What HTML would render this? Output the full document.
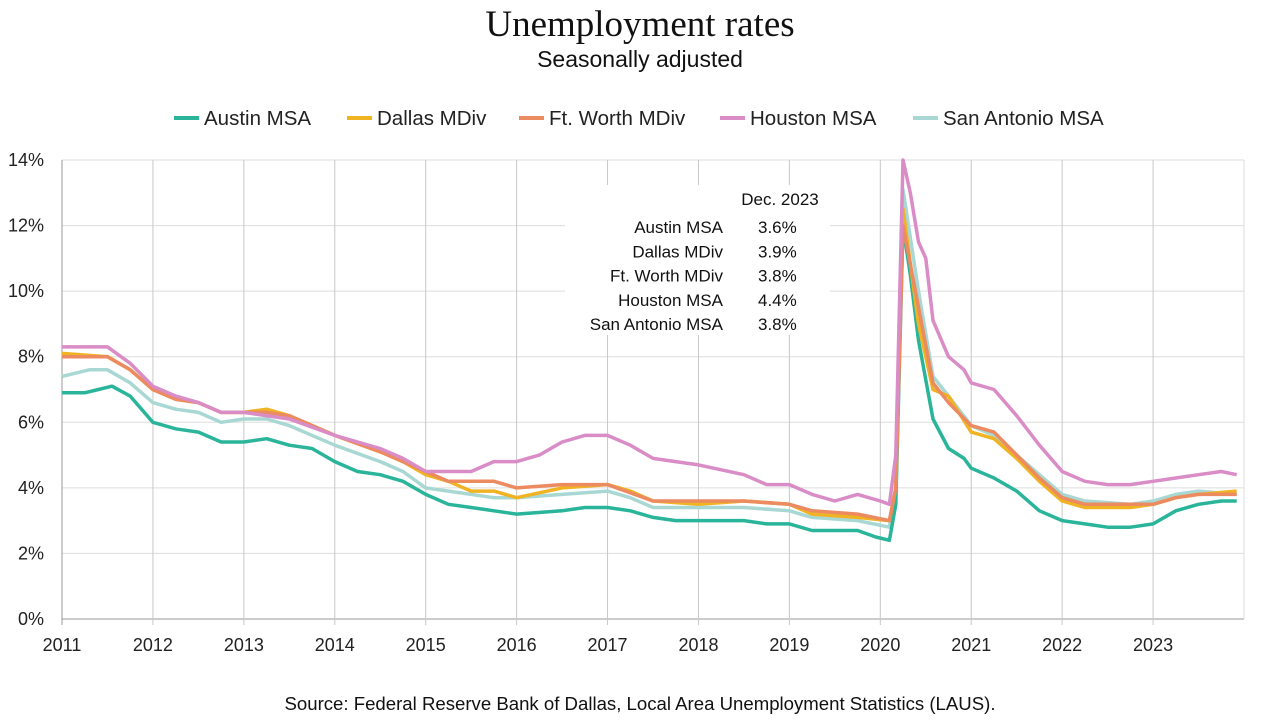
<!DOCTYPE html>
<html><head><meta charset="utf-8"><style>
body{margin:0;background:#fff;width:1280px;height:720px;overflow:hidden;font-family:"Liberation Sans",sans-serif}
</style></head><body>
<svg width="1280" height="720">
<text x="640" y="36" text-anchor="middle" font-family="Liberation Serif" font-size="37" fill="#111">Unemployment rates</text>
<text x="640" y="67" text-anchor="middle" font-size="23" fill="#111">Seasonally adjusted</text>
<g id="legend"></g>
<g id="grid"></g>
<g id="series"></g>
<g font-size="17" fill="#111">
<rect x="565" y="185" width="265" height="150" fill="#fff"/>
<text x="780" y="205" text-anchor="middle">Dec. 2023</text>
<g id="tablerows"></g>
</g>
<text x="640" y="710" text-anchor="middle" font-size="18.6" fill="#111">Source:  Federal Reserve Bank of Dallas, Local Area Unemployment Statistics (LAUS).</text>
</svg>
<script>
const seriesNames=["Austin MSA","Dallas MDiv","Ft. Worth MDiv","Houston MSA","San Antonio MSA"];
const seriesColors=["#2ab59a","#f0b323","#ec8a60","#d98cc6","#a9d8d4"];
const yTicks=[0,2,4,6,8,10,12,14];
const xTicks=[2011,2012,2013,2014,2015,2016,2017,2018,2019,2020,2021,2022,2023];
const latest=["3.6%","3.9%","3.8%","4.4%","3.8%"];
const austinDates=[2011,2011.25,2011.4,2011.55,2011.75,2012,2012.25,2012.5,2012.75,2013,2013.25,2013.5,2013.75,2014,2014.25,2014.5,2014.75,2015,2015.25,2015.5,2015.75,2016,2016.5,2016.75,2017,2017.25,2017.5,2017.75,2018,2018.5,2018.75,2019,2019.25,2019.75,2019.95,2020.1,2020.17,2020.25,2020.33,2020.42,2020.58,2020.75,2020.92,2021,2021.25,2021.5,2021.75,2022,2022.25,2022.5,2022.75,2023,2023.25,2023.5,2023.75,2023.92];
const austinVals=[6.9,6.9,7.0,7.1,6.8,6.0,5.8,5.7,5.4,5.4,5.5,5.3,5.2,4.8,4.5,4.4,4.2,3.8,3.5,3.4,3.3,3.2,3.3,3.4,3.4,3.3,3.1,3.0,3.0,3.0,2.9,2.9,2.7,2.7,2.5,2.4,3.5,12.0,10.5,8.5,6.1,5.2,4.9,4.6,4.3,3.9,3.3,3.0,2.9,2.8,2.8,2.9,3.3,3.5,3.6,3.6];
const dallasDates=[2011,2011.5,2011.75,2012,2012.25,2012.5,2012.75,2013,2013.25,2013.5,2014,2014.5,2014.75,2015,2015.25,2015.5,2015.75,2016,2016.5,2017,2017.25,2017.5,2018,2018.5,2019,2019.25,2019.75,2020.1,2020.17,2020.25,2020.42,2020.58,2020.75,2021,2021.25,2021.5,2021.75,2022,2022.25,2022.75,2023,2023.25,2023.5,2023.92];
const dallasVals=[8.1,8.0,7.6,7.0,6.7,6.6,6.3,6.3,6.4,6.2,5.6,5.1,4.8,4.4,4.2,3.9,3.9,3.7,4.0,4.1,3.9,3.6,3.5,3.6,3.5,3.2,3.1,3.0,4.0,12.5,9.0,7.0,6.8,5.7,5.5,4.9,4.2,3.6,3.4,3.4,3.5,3.7,3.8,3.9];
const fortDates=[2011,2011.5,2011.75,2012,2012.25,2012.5,2012.75,2013,2013.25,2013.5,2014,2014.5,2014.75,2015,2015.25,2015.75,2016,2016.5,2017,2017.5,2018,2018.5,2019,2019.25,2019.75,2020.1,2020.17,2020.25,2020.42,2020.58,2020.75,2021,2021.25,2021.5,2021.75,2022,2022.25,2022.75,2023,2023.25,2023.5,2023.92];
const fortVals=[8.0,8.0,7.6,7.0,6.7,6.6,6.3,6.3,6.3,6.2,5.6,5.1,4.8,4.5,4.2,4.2,4.0,4.1,4.1,3.6,3.6,3.6,3.5,3.3,3.2,3.0,4.0,12.0,9.5,7.2,6.6,5.9,5.7,5.0,4.3,3.7,3.5,3.5,3.5,3.7,3.8,3.8];
const houstonDates=[2011,2011.5,2011.75,2012,2012.25,2012.5,2012.75,2013,2013.5,2014,2014.5,2014.75,2015,2015.5,2015.75,2016,2016.25,2016.5,2016.75,2017,2017.25,2017.5,2017.75,2018,2018.5,2018.75,2019,2019.25,2019.5,2019.75,2020,2020.1,2020.17,2020.25,2020.33,2020.42,2020.5,2020.58,2020.75,2020.92,2021,2021.25,2021.5,2021.75,2022,2022.25,2022.5,2022.75,2023,2023.25,2023.5,2023.75,2023.92];
const houstonVals=[8.3,8.3,7.8,7.1,6.8,6.6,6.3,6.3,6.1,5.6,5.2,4.9,4.5,4.5,4.8,4.8,5.0,5.4,5.6,5.6,5.3,4.9,4.8,4.7,4.4,4.1,4.1,3.8,3.6,3.8,3.6,3.5,5.0,14.0,13.0,11.5,11.0,9.1,8.0,7.6,7.2,7.0,6.2,5.3,4.5,4.2,4.1,4.1,4.2,4.3,4.4,4.5,4.4];
const saDates=[2011,2011.3,2011.5,2011.75,2012,2012.25,2012.5,2012.75,2013,2013.25,2013.5,2014,2014.5,2014.75,2015,2015.25,2015.5,2015.75,2016,2016.5,2017,2017.25,2017.5,2018,2018.5,2019,2019.25,2019.75,2020.1,2020.17,2020.25,2020.42,2020.58,2020.75,2021,2021.25,2021.5,2021.75,2022,2022.25,2022.75,2023,2023.25,2023.5,2023.92];
const saVals=[7.4,7.6,7.6,7.2,6.6,6.4,6.3,6.0,6.1,6.1,5.9,5.3,4.8,4.5,4.0,3.9,3.8,3.7,3.7,3.8,3.9,3.7,3.4,3.4,3.4,3.3,3.1,3.0,2.8,4.0,13.1,10.0,7.4,6.8,5.9,5.6,5.0,4.4,3.8,3.6,3.5,3.6,3.8,3.9,3.8];
const allDates=[austinDates,dallasDates,fortDates,houstonDates,saDates];
const allVals=[austinVals,dallasVals,fortVals,houstonVals,saVals];

const NS="http://www.w3.org/2000/svg";
const X0=62,X1=1244,Y0=619,Y1=160;
const xs=t=>X0+(t-2011)/13*(X1-X0);
const ys=v=>Y0-v/14*(Y0-Y1);
function mk(tag,attrs,parent){const e=document.createElementNS(NS,tag);for(const k in attrs)e.setAttribute(k,attrs[k]);parent.appendChild(e);return e;}
const grid=document.getElementById('grid');
yTicks.forEach(v=>{
 const l=mk('line',{x1:X0,x2:X1,y1:ys(v),y2:ys(v),stroke:v===0?'#999':'#ddd','stroke-width':1},grid);
 
 
 const t=mk('text',{x:X0-18,y:ys(v)+6,'text-anchor':'end','font-size':18,fill:'#222'},grid);
 t.textContent=v+'%';
 
 
});
xTicks.forEach(y=>{
 const l=mk('line',{x1:xs(y),x2:xs(y),y1:Y1,y2:Y0+6,stroke:y===2011?'#999':'#c8c8c8','stroke-width':1},grid);
 
 
 const t=mk('text',{x:xs(y),y:Y0+32,'text-anchor':'middle','font-size':18,fill:'#222'},grid);
 t.textContent=y;
 
 
});
mk('line',{x1:X1,x2:X1,y1:Y1,y2:Y0,stroke:'#ddd'},grid);
const sg=document.getElementById('series');
const order=[4,0,1,2,3];
order.forEach(i=>{
 const pts=allDates[i].map((d,k)=>xs(d).toFixed(1)+','+ys(allVals[i][k]).toFixed(1)).join(' ');
 const p=mk('polyline',{points:pts,fill:'none',stroke:seriesColors[i],'stroke-width':3.5,'stroke-linejoin':'round'},sg);
 
 
});
const lg=document.getElementById('legend');
const lx=[174,347,519,720,913];
seriesNames.forEach((n,i)=>{
 const l=mk('line',{x1:lx[i],x2:lx[i]+25,y1:118,y2:118,stroke:seriesColors[i],'stroke-width':4},lg);
 
 
 const t=mk('text',{x:lx[i]+30,y:125,'font-size':20.5,fill:'#222'},lg);
 t.textContent=n;
 
 
});
const tr=document.getElementById('tablerows');
seriesNames.forEach((n,i)=>{
 const y=233+i*24.3;
 const a=mk('text',{x:723,y:y,'text-anchor':'end'},tr);
 a.textContent=n;
 
 
 const b=mk('text',{x:758,y:y},tr);
 b.textContent=latest[i];
 
 
});
</script>
</body></html>
